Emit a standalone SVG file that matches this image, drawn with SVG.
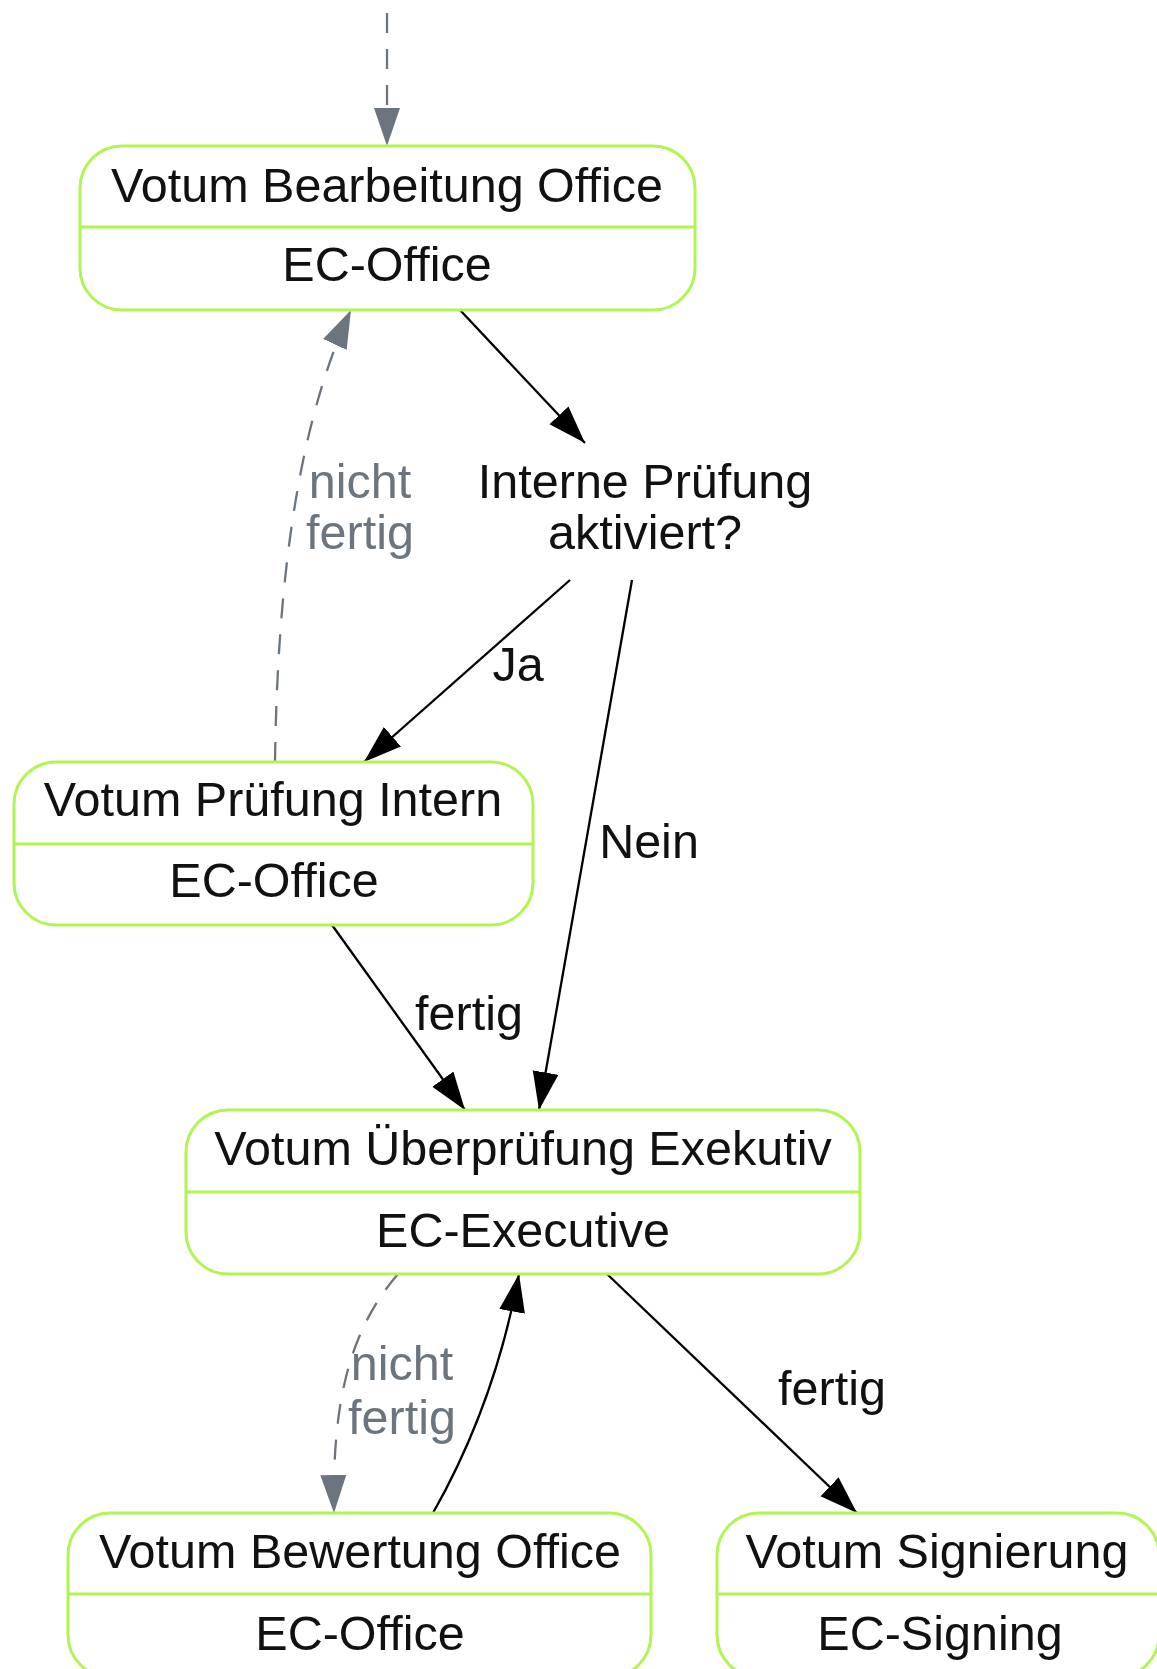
<svg xmlns="http://www.w3.org/2000/svg" width="1157" height="1669" viewBox="0 0 1157 1669">
<style>
.box{fill:#ffffff;stroke:#b0f552;stroke-width:3}
.div{stroke:#b0f552;stroke-width:3}
.t{font-family:"Liberation Sans",Arial,sans-serif;font-size:48.5px;fill:#111111;text-anchor:middle}
.g{fill:#6c757d}
.e{fill:none;stroke:#000000;stroke-width:2.3}
.d{fill:none;stroke:#6c757d;stroke-width:2.3;stroke-dasharray:20,16}
</style>
<defs>
<marker id="ab" markerUnits="userSpaceOnUse" markerWidth="40" markerHeight="28" refX="38" refY="13" orient="auto"><path d="M0,0 L38,13 L0,26 z" fill="#000000"/></marker>
<marker id="ag" markerUnits="userSpaceOnUse" markerWidth="40" markerHeight="28" refX="38" refY="13" orient="auto"><path d="M0,0 L38,13 L0,26 z" fill="#6c757d"/></marker>
</defs>
<rect width="1157" height="1669" fill="#ffffff"/>
<g id="edges">
<path class="d" d="M387,13 L387,146" marker-end="url(#ag)"/>
<path class="e" d="M460,310 L585,443" marker-end="url(#ab)"/>
<path class="d" d="M275,762 C277,620 290,440 351,310" marker-end="url(#ag)"/>
<text class="t g" x="360" y="498">nicht</text>
<text class="t g" x="360" y="549">fertig</text>
<path class="e" d="M570,580 L364,762" marker-end="url(#ab)"/>
<text class="t" x="518" y="681">Ja</text>
<path class="e" d="M632,580 L539,1110" marker-end="url(#ab)"/>
<text class="t" x="649" y="858">Nein</text>
<path class="e" d="M332,925 L465,1110" marker-end="url(#ab)"/>
<text class="t" x="469" y="1030">fertig</text>
<path class="d" d="M398,1274 C350,1330 332,1400 334,1513" marker-end="url(#ag)"/>
<text class="t g" x="402" y="1380">nicht</text>
<text class="t g" x="402" y="1434">fertig</text>
<path class="e" d="M433,1513 C480,1430 505,1350 519,1274" marker-end="url(#ab)"/>
<path class="e" d="M607,1274 L857,1513" marker-end="url(#ab)"/>
<text class="t" x="832" y="1405">fertig</text>
</g>
<g id="n_bearbeitung">
<rect class="box" x="80" y="146" width="615" height="164" rx="42" ry="42"/>
<line class="div" x1="80" y1="227" x2="695" y2="227"/>
<text class="t" x="387" y="202">Votum Bearbeitung Office</text>
<text class="t" x="387" y="281">EC-Office</text>
</g>
<g id="n_decision">
<text class="t" x="645" y="498">Interne Prüfung</text>
<text class="t" x="645" y="549">aktiviert?</text>
</g>
<g id="n_pruefung">
<rect class="box" x="14" y="762" width="519" height="163" rx="42" ry="42"/>
<line class="div" x1="14" y1="844" x2="533" y2="844"/>
<text class="t" x="273" y="816">Votum Prüfung Intern</text>
<text class="t" x="274" y="897">EC-Office</text>
</g>
<g id="n_ueberpruefung">
<rect class="box" x="186" y="1110" width="674" height="164" rx="42" ry="42"/>
<line class="div" x1="186" y1="1192" x2="860" y2="1192"/>
<text class="t" x="523" y="1165">Votum Überprüfung Exekutiv</text>
<text class="t" x="523" y="1247">EC-Executive</text>
</g>
<g id="n_bewertung">
<rect class="box" x="68" y="1513" width="583" height="164" rx="42" ry="42"/>
<line class="div" x1="68" y1="1594" x2="651" y2="1594"/>
<text class="t" x="360" y="1568">Votum Bewertung Office</text>
<text class="t" x="360" y="1650">EC-Office</text>
</g>
<g id="n_signierung">
<rect class="box" x="717" y="1513" width="442" height="164" rx="42" ry="42"/>
<line class="div" x1="717" y1="1594" x2="1159" y2="1594"/>
<text class="t" x="937" y="1568">Votum Signierung</text>
<text class="t" x="940" y="1650">EC-Signing</text>
</g>
</svg>
